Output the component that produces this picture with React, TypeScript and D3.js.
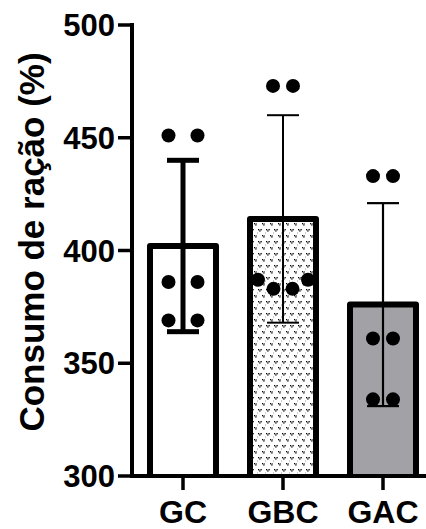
import React from "react";
import * as d3 from "d3";

const categories = ["GC", "GBC", "GAC"];
const means = [402, 414, 376];
const sds = [38, 46, 45];
const pointsGC = [451, 451, 386, 386, 369, 369];
const pointsGBC = [473, 473, 387, 383, 383, 387];
const pointsGAC = [433, 433, 361, 361, 334, 334];
const yTicks = [300, 350, 400, 450, 500];

const allPoints = [pointsGC, pointsGBC, pointsGAC];
// horizontal spread of scatter dots (layout only)
const spreadGC = [-14.5, 14.5, -14.5, 14.5, -14.5, 14.5];
const spreadGBC = [-10, 10, -25, -9.5, 9.5, 25];
const spreadGAC = [-10, 10, -10, 10, -10, 10];
const spreads = [spreadGC, spreadGBC, spreadGAC];

const W = 426;
const H = 529;
const FONT = "'Liberation Sans', Arial, Helvetica, sans-serif";

export default function App() {
  const y = d3.scaleLinear().domain([300, 500]).range([476, 25]);
  const x = d3.scalePoint<string>().domain(categories).range([183, 383]);
  const axisX = 132;
  const base = y(300);
  const barW = 66;
  const capW = 32;
  const errW = [5, 2, 2.2];
  const fills = ["#ffffff", "url(#vpat)", "#a2a1a6"];

  return (
    <svg
      width={W}
      height={H}
      style={{ position: "absolute", left: 0, top: 0, background: "#fff" }}
    >
      <defs>
        <pattern id="vpat" width="8" height="12" patternUnits="userSpaceOnUse" x="153" y="0">
          <rect width="8" height="12" fill="#fff" />
          <rect x="1" y="1" width="1.3" height="1.3" fill="#000" />
          <rect x="3.5" y="1" width="1.3" height="1.3" fill="#000" />
          <rect x="2.25" y="2.3" width="1.3" height="1.3" fill="#000" />
          <rect x="5" y="7" width="1.3" height="1.3" fill="#000" />
          <rect x="7.5" y="7" width="1.3" height="1.3" fill="#000" />
          <rect x="6.25" y="8.3" width="1.3" height="1.3" fill="#000" />
          <rect x="-0.5" y="4.5" width="1" height="1" fill="#333" />
        </pattern>
      </defs>

      {/* bars */}
      {categories.map((c, i) => {
        const cx = x(c)!;
        const top = y(means[i]);
        return (
          <path
            key={"bar" + c}
            d={`M${cx - barW / 2},${base} V${top} H${cx + barW / 2} V${base}`}
            fill={fills[i]}
            stroke="#000"
            strokeWidth={6}
            strokeLinejoin="round"
          />
        );
      })}

      {/* error bars */}
      {categories.map((c, i) => {
        const cx = x(c)!;
        const hi = y(means[i] + sds[i]);
        const lo = y(means[i] - sds[i]);
        return (
          <g key={"err" + c} stroke="#000" strokeWidth={errW[i]}>
            <line x1={cx} x2={cx} y1={hi} y2={lo} />
            <line x1={cx - capW / 2} x2={cx + capW / 2} y1={hi} y2={hi} />
            <line x1={cx - capW / 2} x2={cx + capW / 2} y1={lo} y2={lo} />
          </g>
        );
      })}

      {/* points */}
      {categories.map((c, i) =>
        allPoints[i].map((v, j) => (
          <circle
            key={"pt" + c + j}
            cx={x(c)! + spreads[i][j]}
            cy={y(v)}
            r={7}
            fill="#000"
          />
        ))
      )}

      {/* y axis */}
      <line x1={axisX} x2={axisX} y1={y(500) - 2} y2={base + 2} stroke="#000" strokeWidth={4} />
      {yTicks.map((t) => (
        <g key={"yt" + t}>
          <line x1={axisX - 14} x2={axisX} y1={y(t)} y2={y(t)} stroke="#000" strokeWidth={3.5} />
          <text
            x={axisX - 17}
            y={y(t)}
            dy="0.36em"
            textAnchor="end"
            fontFamily={FONT}
            fontWeight="bold"
            fontSize={31}
            fill="#000"
          >
            {t}
          </text>
        </g>
      ))}

      {/* x axis */}
      <line x1={axisX - 2} x2={W} y1={base} y2={base} stroke="#000" strokeWidth={4} />
      {categories.map((c) => (
        <g key={"xt" + c}>
          <line x1={x(c)!} x2={x(c)!} y1={base} y2={base + 14} stroke="#000" strokeWidth={3.5} />
          <text
            x={x(c)!}
            y={523}
            textAnchor="middle"
            fontFamily={FONT}
            fontWeight="bold"
            fontSize={32}
            fill="#000"
          >
            {c}
          </text>
        </g>
      ))}

      {/* y label */}
      <text
        transform={`translate(44,242) rotate(-90)`}
        textAnchor="middle"
        fontFamily={FONT}
        fontWeight="bold"
        fontSize={35}
        fill="#000"
      >
        Consumo de ração (%)
      </text>
    </svg>
  );
}
